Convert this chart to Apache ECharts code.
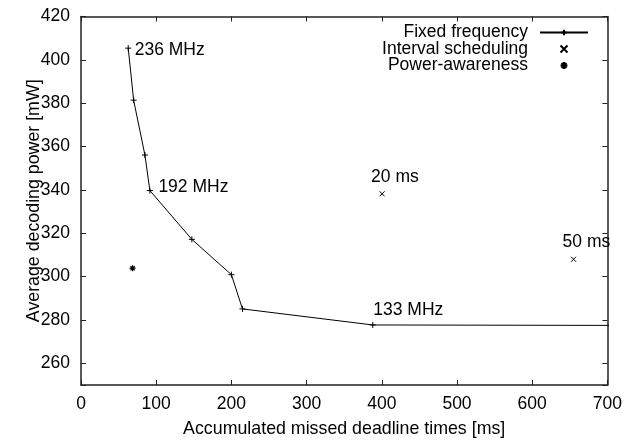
<!DOCTYPE html>
<html>
<head>
<meta charset="utf-8">
<script src="https://cdn.jsdelivr.net/npm/echarts@6/dist/echarts.min.js"></script>
<style>
  html, body { margin: 0; padding: 0; background: #fff; }
  #chart { width: 625px; height: 443px; }
</style>
</head>
<body>
<div id="chart"></div>
<script>
// Fixed-frequency operating points: [missed deadline time ms, power mW]
const fixedMs = [62.8, 70.0, 85.0, 91.6, 147.4, 200.0, 214.7, 388.0, 1000.0];
const fixedMw = [405.4, 381.4, 356.1, 339.7, 317.2, 300.9, 285.1, 277.7, 277.3];
const fixedLabels = ['236 MHz', '', '', '192 MHz', '', '', '', '133 MHz', ''];

// Interval scheduling runs
const intervalMs = [400.4, 655.0];
const intervalMw = [338.2, 308.0];
const intervalLabels = ['20 ms', '50 ms'];

// Power-aware scheduling
const powerMs = [68.6];
const powerMw = [303.9];

const xTicks = [0, 700, 100];       // min, max, step
const yRange = [250, 420];

const FONT = '"Liberation Sans", Arial, Helvetica, sans-serif';
const FS = 17.5;
const PLUS = 'path://M0,5L10,5M5,0L5,10';
const CROSS = 'path://M0,0L10,10M10,0L0,10';
const STAR = 'path://M0,5L10,5M5,0L5,10M1.5,1.5L8.5,8.5M8.5,1.5L1.5,8.5';

const labelPlacement = {
  '236 MHz': { distance: 3, offset: [0, 2] },
  '192 MHz': { distance: 5, offset: [0, -3] },
  '133 MHz': { distance: 0, offset: [-3, -15] },
  '20 ms': { distance: 0, offset: [-14, -17] },
  '50 ms': { distance: 0, offset: [-14, -17] }
};

function withLabels(xs, ys, labels) {
  return xs.map((x, i) => {
    const item = { value: [x, ys[i]] };
    const text = labels ? labels[i] : '';
    if (text) {
      const p = labelPlacement[text];
      item.label = {
        show: true,
        position: 'right',
        distance: p.distance,
        offset: p.offset,
        formatter: text,
        color: '#000',
        opacity: 1,
        fontFamily: FONT,
        fontSize: FS
      };
    }
    return item;
  });
}

const axisLine = { show: true, onZero: false, lineStyle: { color: '#222', width: 1.5 } };
const axisTick = { show: true, inside: true, length: 5, lineStyle: { color: '#222', width: 1 } };

const chart = echarts.init(document.getElementById('chart'), null, { renderer: 'canvas' });

chart.setOption({
  backgroundColor: '#fff',
  animation: false,
  textStyle: { fontFamily: FONT, color: '#000' },
  grid: { left: 81, right: 17, top: 16.5, bottom: 55.5, containLabel: false },
  legend: {
    orient: 'vertical',
    right: 31,
    top: 18.5,
    align: 'right',
    itemWidth: 48,
    itemHeight: 7,
    itemGap: -1.5,
    textStyle: { fontFamily: FONT, fontSize: FS, color: '#000', padding: [0, 7, 0, 0] },
    data: ['Fixed frequency', 'Interval scheduling', 'Power-awareness']
  },
  xAxis: [
    {
      type: 'value', min: xTicks[0], max: xTicks[1], interval: xTicks[2],
      name: 'Accumulated missed deadline times [ms]',
      nameLocation: 'middle', nameGap: 35, nameMoveOverlap: false,
      nameTextStyle: { fontFamily: FONT, fontSize: 17.8, color: '#000' },
      axisLine, axisTick,
      axisLabel: { fontFamily: FONT, fontSize: FS, color: '#000', margin: 10.5 },
      splitLine: { show: false }
    },
    {
      type: 'value', position: 'top', min: xTicks[0], max: xTicks[1], interval: xTicks[2],
      axisLine, axisTick, axisLabel: { show: false }, splitLine: { show: false }
    }
  ],
  yAxis: [
    {
      type: 'value', min: yRange[0], max: yRange[1], splitNumber: 8,
      name: 'Average decoding power [mW]',
      nameLocation: 'middle', nameGap: 38, nameMoveOverlap: false,
      nameTextStyle: { fontFamily: FONT, fontSize: 17.8, color: '#000' },
      axisLine, axisTick,
      axisLabel: {
        fontFamily: FONT, fontSize: FS, color: '#000', margin: 11,
        formatter: v => (v % 20 === 0 ? String(v) : '')
      },
      splitLine: { show: false }
    },
    {
      type: 'value', position: 'right', min: yRange[0], max: yRange[1], splitNumber: 8,
      axisLine, axisTick, axisLabel: { show: false }, splitLine: { show: false }
    }
  ],
  series: [
    {
      name: 'Fixed frequency',
      type: 'line',
      xAxisIndex: 0, yAxisIndex: 0,
      clip: true,
      symbol: PLUS,
      symbolSize: 6,
      showSymbol: true,
      lineStyle: { color: '#000', width: 1 },
      itemStyle: { color: '#000', borderColor: '#000', borderWidth: 1, opacity: 1 },
      data: withLabels(fixedMs, fixedMw, fixedLabels),
      z: 3
    },
    {
      name: 'Interval scheduling',
      type: 'scatter',
      xAxisIndex: 0, yAxisIndex: 0,
      symbol: CROSS,
      symbolSize: 5,
      itemStyle: { color: '#000', borderColor: '#000', borderWidth: 1, opacity: 1 },
      data: withLabels(intervalMs, intervalMw, intervalLabels)
    },
    {
      name: 'Power-awareness',
      type: 'scatter',
      xAxisIndex: 0, yAxisIndex: 0,
      symbol: STAR,
      symbolSize: 6,
      itemStyle: { color: '#000', borderColor: '#000', borderWidth: 1.2, opacity: 1 },
      data: withLabels(powerMs, powerMw, null)
    }
  ]
});
</script>
</body>
</html>
